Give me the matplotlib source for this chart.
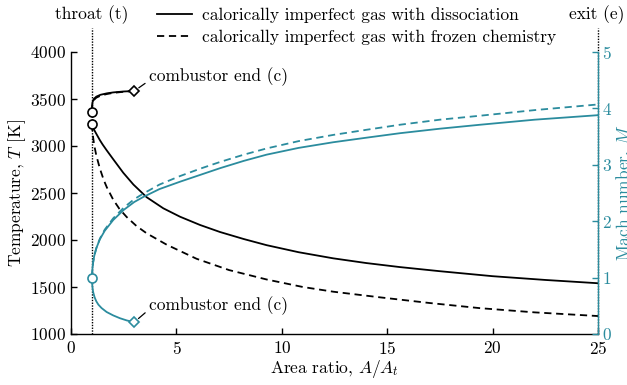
import matplotlib
matplotlib.use("Agg")
import matplotlib.pyplot as plt

plt.rcParams['font.family'] = ['cmr10']
plt.rcParams['mathtext.fontset'] = 'cm'
plt.rcParams['axes.formatter.use_mathtext'] = True
plt.rcParams['font.size'] = 12.5

TEAL = '#2b8c9e'

# ---- data ----
# Temperature, subsonic (combustor end -> throat)
A_T_sub_diss = [1.00, 1.00, 1.02, 1.08, 1.2, 1.4, 1.7, 2.0, 2.5, 3.0]
T_sub_diss = [3365, 3420, 3465, 3500, 3525, 3545, 3560, 3570, 3580, 3585]
A_T_sub_froz = [1.00, 1.00, 1.02, 1.08, 1.2, 1.4, 1.7, 2.0, 2.5, 3.0]
T_sub_froz = [3365, 3410, 3452, 3488, 3514, 3535, 3553, 3565, 3577, 3585]

# Temperature, supersonic (throat -> exit)
A_T_sup_diss = [1.0, 1.01, 1.03, 1.07, 1.15, 1.25, 1.37, 1.5, 1.69, 2.0, 2.48,
                2.96, 3.59, 4.38, 5.17, 6.12, 7.07, 8.2, 9.28, 10.8, 12.44,
                14.0, 15.6, 17.5, 20.0, 22.5, 25.0]
T_sup_diss = [3235, 3220, 3205, 3185, 3150, 3110, 3062, 3016, 2955, 2860, 2715,
              2590, 2455, 2337, 2248, 2160, 2085, 2010, 1945, 1870, 1805,
              1755, 1712, 1668, 1615, 1575, 1540]
A_T_sup_froz = [1.0, 1.005, 1.02, 1.05, 1.1, 1.2, 1.37, 1.55, 1.7, 2.0, 2.3,
                2.64, 3.1, 3.59, 4.54, 5.96, 7.5, 9.28, 11.0, 12.44, 14.66,
                17.0, 19.4, 22.0, 25.0]
T_sup_froz = [3235, 3205, 3160, 3090, 3010, 2900, 2760, 2640, 2560, 2430, 2330,
              2245, 2150, 2071, 1950, 1800, 1680, 1580, 1500, 1450, 1390,
              1330, 1275, 1230, 1191]

# Mach number, subsonic
A_M_sub = [1.0, 1.003, 1.01, 1.03, 1.06, 1.12, 1.2, 1.3, 1.45, 1.69, 2.0,
           2.32, 2.65, 3.0]
M_sub = [1.0, 0.92, 0.86, 0.79, 0.73, 0.65, 0.58, 0.52, 0.46, 0.39, 0.33,
         0.28, 0.24, 0.21]

# Mach number, supersonic
A_M_sup = [1.0, 1.005, 1.02, 1.05, 1.1, 1.2, 1.37, 1.6, 2.0, 2.5, 3.0, 3.43,
           4.2, 5.17, 6.12, 7.07, 8.2, 9.28, 10.8, 12.44, 14.0, 15.6, 17.5,
           19.4, 22.0, 25.0]
M_sup_diss = [1.0, 1.08, 1.17, 1.27, 1.38, 1.52, 1.68, 1.83, 2.02, 2.2, 2.34,
              2.43, 2.57, 2.70, 2.82, 2.94, 3.07, 3.18, 3.30, 3.40, 3.48, 3.56,
              3.64, 3.71, 3.80, 3.88]
M_sup_froz = [1.0, 1.08, 1.17, 1.27, 1.38, 1.52, 1.69, 1.85, 2.05, 2.24, 2.39,
              2.49, 2.65, 2.80, 2.93, 3.05, 3.18, 3.29, 3.42, 3.53, 3.62, 3.71,
              3.80, 3.87, 3.97, 4.07]

# special points
A_comb = 3.0
T_comb = 3585
M_comb = 0.21
A_throat = 1.0
T_throat_pts = [3365, 3235]
M_throat = 1.0
A_exit = 25.0

x_ticks = [0, 5, 10, 15, 20, 25]
T_ticks = [1000, 1500, 2000, 2500, 3000, 3500, 4000]
M_ticks = [0, 1, 2, 3, 4, 5]

labels = ['calorically imperfect gas with dissociation',
          'calorically imperfect gas with frozen chemistry']

# ---- figure ----
fig = plt.figure(figsize=(6.27, 3.85), dpi=100)
ax = fig.add_axes([71/627, 51/385, 527/627, 282/385])
ax2 = ax.twinx()

lw = 1.3
dash = (0, (4, 2.6))
l1, = ax.plot(A_T_sup_diss, T_sup_diss, color='black', lw=lw, ls='-')
l2, = ax.plot(A_T_sup_froz, T_sup_froz, color='black', lw=lw, ls=dash)
ax.plot(A_T_sub_diss, T_sub_diss, color='black', lw=lw, ls='-')
ax.plot(A_T_sub_froz, T_sub_froz, color='black', lw=lw, ls=dash)

ax2.plot(A_M_sup, M_sup_diss, color=TEAL, lw=lw, ls='-')
ax2.plot(A_M_sup, M_sup_froz, color=TEAL, lw=lw, ls=dash)
ax2.plot(A_M_sub, M_sub, color=TEAL, lw=lw, ls='-')

# markers
ax.plot([A_throat]*2, T_throat_pts, 'o', ms=6.5, mfc='white', mec='black', mew=1.2, zorder=5)
ax.plot([A_comb], [T_comb], 'D', ms=5.5, mfc='white', mec='black', mew=1.2, zorder=5)
ax2.plot([A_throat], [M_throat], 'o', ms=6.5, mfc='white', mec=TEAL, mew=1.2, zorder=5)
ax2.plot([A_comb], [M_comb], 'D', ms=5.5, mfc='white', mec=TEAL, mew=1.2, zorder=5)

# dotted station lines
for xs in (A_throat, A_exit):
    ax.plot([xs, xs], [1000, 4255], color='black', lw=1.0, ls=(0, (1, 1)),
            clip_on=False, zorder=1)

ax.set_xlim(0, 25)
ax.set_ylim(1000, 4000)
ax2.set_ylim(0, 5)
ax.set_xticks(x_ticks)
ax.set_yticks(T_ticks)
ax2.set_yticks(M_ticks)

for a in (ax, ax2):
    a.spines['top'].set_visible(False)
    for s in a.spines.values():
        s.set_linewidth(1.0)
ax.spines['right'].set_visible(False)
ax2.spines['left'].set_visible(False)
ax2.spines['bottom'].set_visible(False)
ax2.spines['right'].set_color(TEAL)

ax.tick_params(direction='in', length=4, width=1.0, top=False, right=False, pad=4)
ax2.tick_params(axis='y', direction='in', length=4, width=1.0, colors=TEAL, pad=3)

ax.set_xlabel(r'Area ratio, $A/A_t$', labelpad=1)
ax.set_ylabel(r'Temperature, $T$ [K]', labelpad=1)
ax2.set_ylabel(r'Mach number, $M$', color=TEAL, labelpad=1)

# annotations
ax.annotate('combustor end (c)', xy=(A_comb, T_comb), xytext=(3.7, 3735),
            ha='left', va='center',
            arrowprops=dict(arrowstyle='-', color='black', lw=0.9,
                            shrinkA=1, shrinkB=4, relpos=(0, 0.3)))
ax2.annotate('combustor end (c)', xy=(A_comb, M_comb), xytext=(3.7, 0.50),
             ha='left', va='center',
             arrowprops=dict(arrowstyle='-', color='black', lw=0.9,
                             shrinkA=1, shrinkB=4, relpos=(0, 0.3)))

# station labels
fig.text(92/627, 1 - 15/385, 'throat (t)', ha='center', va='center')
fig.text(597/627, 1 - 15/385, 'exit (e)', ha='center', va='center')

# legend
fig.legend([l1, l2], labels, loc='upper left',
           bbox_to_anchor=(157/627, 1 - 7/385), frameon=False,
           handlelength=2.0, handletextpad=0.6, labelspacing=0.4,
           borderpad=0, borderaxespad=0)

fig.savefig('out.png', dpi=100)
